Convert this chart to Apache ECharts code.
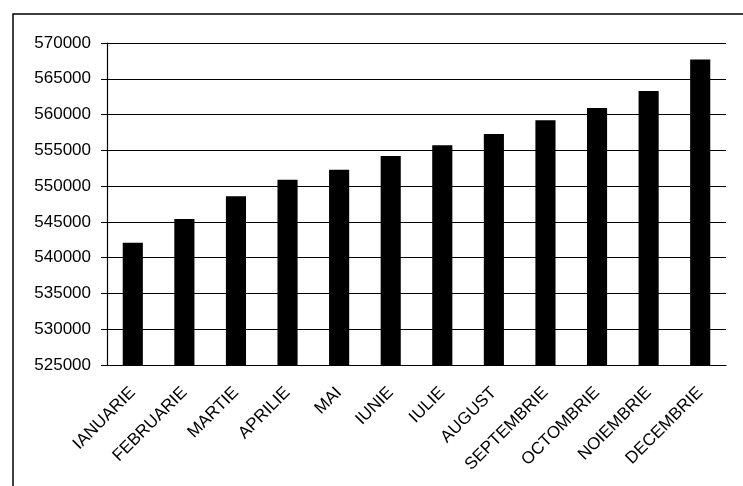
<!DOCTYPE html>
<html>
<head>
<meta charset="utf-8">
<script src="https://cdn.jsdelivr.net/npm/echarts@6/dist/echarts.min.js"></script>
<style>
  html, body { margin: 0; padding: 0; background: #fff; }
  #main { width: 743px; height: 486px; }
</style>
</head>
<body>
<div id="main"></div>
<script>
// luni si valori
var months = ['IANUARIE', 'FEBRUARIE', 'MARTIE', 'APRILIE', 'MAI', 'IUNIE',
  'IULIE', 'AUGUST', 'SEPTEMBRIE', 'OCTOMBRIE', 'NOIEMBRIE', 'DECEMBRIE'];
var values = [542100, 545400, 548600, 550900, 552300, 554200,
  555700, 557300, 559200, 560900, 563300, 567700];
var yMin = 525000;
var yMax = 570000;
var yStep = 5000;

var chart = echarts.init(document.getElementById('main'));

var option = {
  animation: false,
  backgroundColor: '#fff',
  graphic: {
    elements: [
      {
        // rama exterioara (jos si dreapta ies din imagine)
        type: 'rect',
        shape: { x: 13, y: 14, width: 760, height: 500 },
        style: { fill: 'none', stroke: '#000', lineWidth: 1.5 },
        silent: true
      }
    ]
  },
  grid: {
    left: 107,
    right: 17,
    top: 43,
    bottom: 121
  },
  xAxis: {
    type: 'category',
    data: months,
    axisLine: { lineStyle: { color: '#000', width: 1.2 } },
    axisTick: { length: 5, lineStyle: { color: '#000' } },
    axisLabel: {
      rotate: 45,
      margin: 25,
      interval: 0,
      color: '#000',
      fontFamily: 'Liberation Sans, Arial',
      fontSize: 17
    }
  },
  yAxis: {
    type: 'value',
    min: yMin,
    max: yMax,
    interval: yStep,
    axisLine: { show: true, lineStyle: { color: '#000', width: 1.2 } },
    axisTick: { show: true, length: 6, lineStyle: { color: '#000' } },
    splitLine: { lineStyle: { color: '#000', width: 1.2 } },
    axisLabel: {
      margin: 16,
      color: '#000',
      fontFamily: 'Liberation Sans, Arial',
      fontSize: 17,
      formatter: function (v) { return String(v); }
    }
  },
  series: [
    {
      type: 'bar',
      data: values,
      barWidth: '39%',
      itemStyle: { color: '#000' }
    }
  ]
};

chart.setOption(option);
</script>
</body>
</html>
